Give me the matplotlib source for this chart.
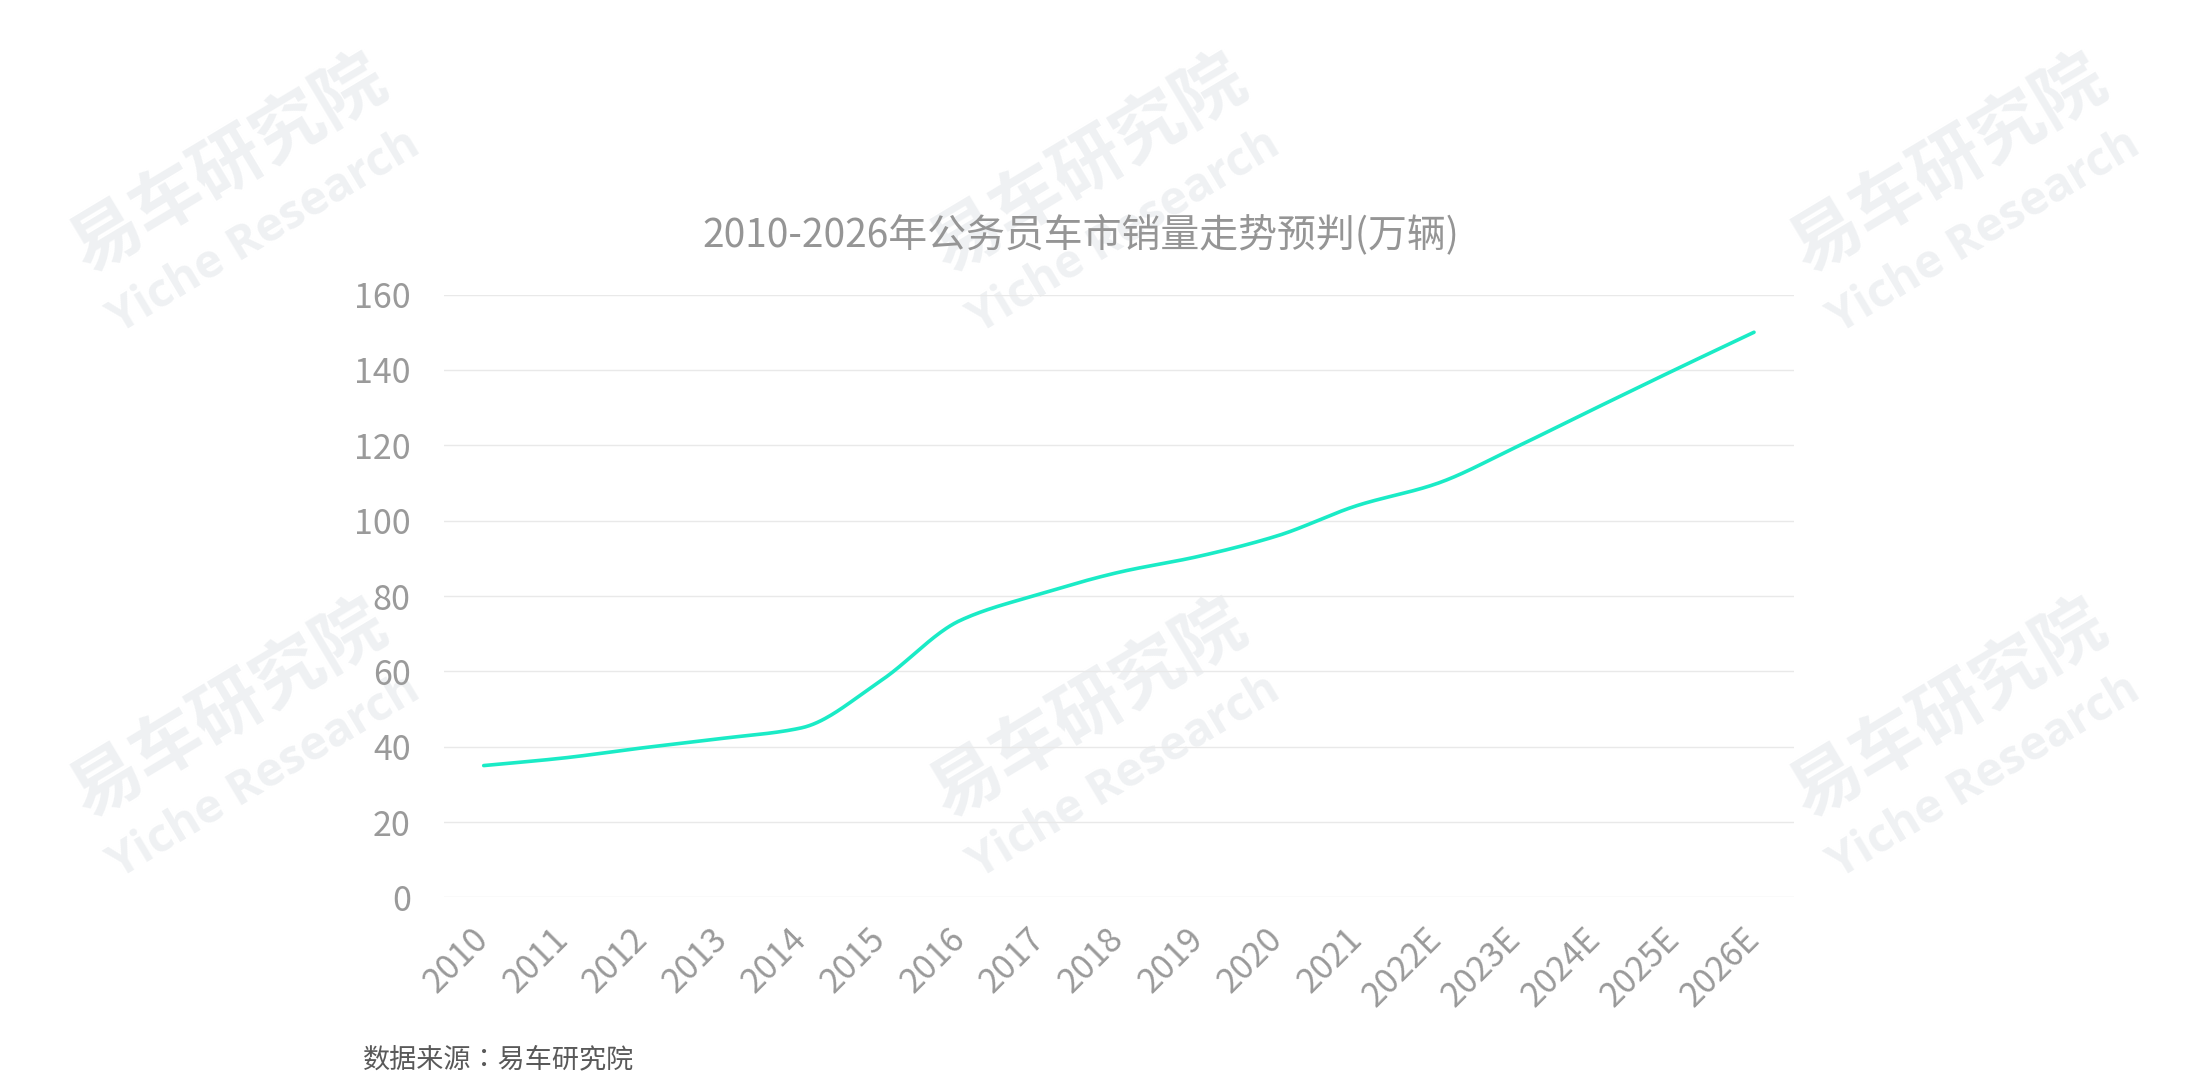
import matplotlib
matplotlib.use('Agg')
import matplotlib.pyplot as plt
import numpy as np

plt.rcParams['font.family'] = ['Noto Sans CJK SC', 'DejaVu Sans']

years = ['2010', '2011', '2012', '2013', '2014', '2015', '2016', '2017', '2018',
         '2019', '2020', '2021', '2022E', '2023E', '2024E', '2025E', '2026E']
sales = [35, 37, 39.7, 42.2, 45, 57.5, 73.5, 80.5, 86.3, 90.5, 96, 104, 109.8,
         119.5, 129.8, 140, 150]
title = '2010-2026年公务员车市销量走势预判(万辆)'
source = '数据来源：易车研究院'


def smooth(x, y, n=40):
    # monotone cubic hermite so the curve passes through every point
    x = np.asarray(x, float)
    y = np.asarray(y, float)
    h = np.diff(x)
    d = np.diff(y) / h
    m = np.zeros_like(y)
    m[0], m[-1] = d[0], d[-1]
    for i in range(1, len(y) - 1):
        if d[i - 1] * d[i] > 0:
            m[i] = 2 / (1 / d[i - 1] + 1 / d[i])
    xs, ys = [], []
    for i in range(len(x) - 1):
        t = np.linspace(0, 1, n, endpoint=False)
        h00 = 2 * t**3 - 3 * t**2 + 1
        h10 = t**3 - 2 * t**2 + t
        h01 = -2 * t**3 + 3 * t**2
        h11 = t**3 - t**2
        xs.append(x[i] + t * h[i])
        ys.append(h00 * y[i] + h10 * h[i] * m[i] + h01 * y[i + 1] + h11 * h[i] * m[i + 1])
    xs.append([x[-1]])
    ys.append([y[-1]])
    return np.concatenate(xs), np.concatenate(ys)


fig = plt.figure(figsize=(22.09, 10.91), dpi=100)

# watermarks
wm_color = '#eff1f3'
for dx in (0, 860, 1720):
    for dy in (0, 545):
        fig.text((229 + dx) / 2209, 1 - (165 + dy) / 1091, '易车研究院', fontsize=51,
                 fontweight='bold', color=wm_color, rotation=31, ha='center', va='center',
                 zorder=-5)
        fig.text((264 + dx) / 2209, 1 - (232 + dy) / 1091, 'Yiche Research', fontsize=34,
                 fontweight='bold', color=wm_color, rotation=31, ha='center', va='center',
                 family=['Open Sans', 'DejaVu Sans'], zorder=-5)

ax = fig.add_axes([0.201, 0.1774, 0.611, 0.5526])
ax.set_facecolor('none')
x = np.arange(len(years))
sx, sy = smooth(x, sales)
ax.plot(sx, sy, color='#1aebc6', linewidth=2.6, solid_capstyle='round', zorder=3)

ax.set_xlim(-0.5, len(years) - 0.5)
ax.set_ylim(0, 160)
ax.set_yticks(np.arange(0, 161, 20))
ax.set_xticks(x)
ax.set_xticklabels(years, rotation=45, ha='right', va='center', rotation_mode='anchor')
ax.tick_params(axis='both', length=0, labelsize=24.5, labelcolor='#9a9a9a')
ax.tick_params(axis='x', pad=26)
ax.tick_params(axis='y', pad=24)
ax.grid(axis='y', color='#e9e9e9', linewidth=1)
ax.set_axisbelow(True)
for s in ax.spines.values():
    s.set_visible(False)

fig.text(0.4894, 0.785, title, fontsize=28, color='#959595', ha='center', va='center')
fig.text(0.1643, 0.0284, source, fontsize=19.5, color='#595959', ha='left', va='center',
         family=['Noto Sans CJK TC', 'DejaVu Sans'])

fig.savefig('out.png', dpi=100)
